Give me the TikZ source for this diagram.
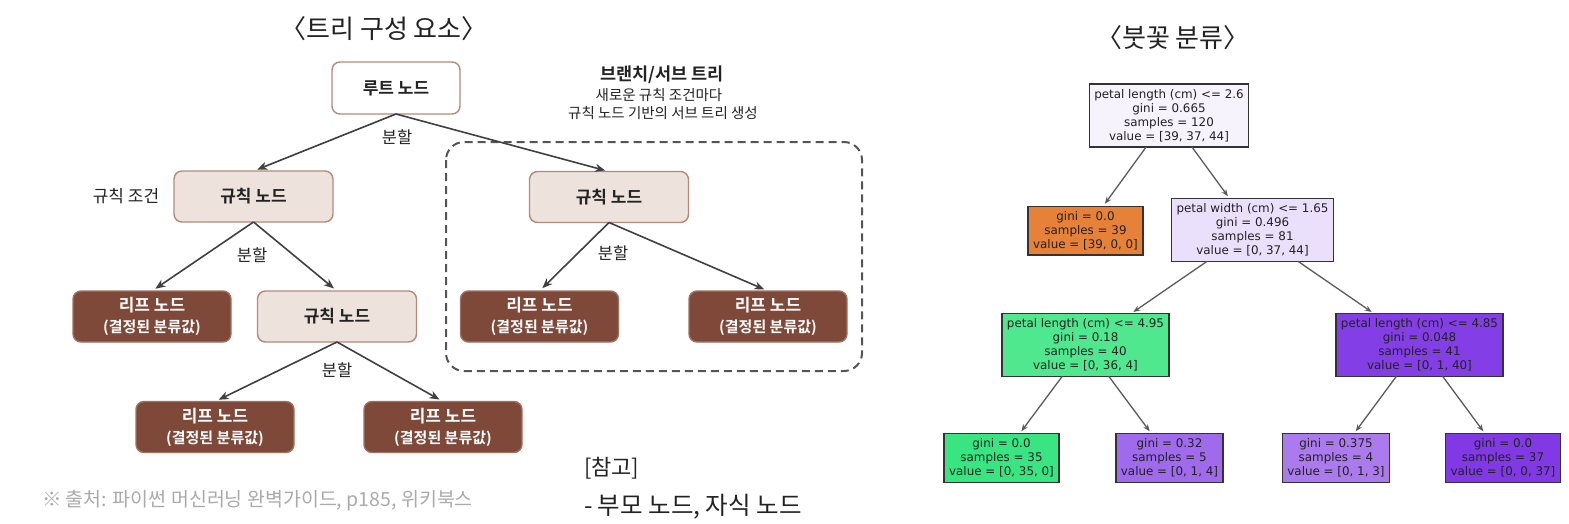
\documentclass[tikz,border=0pt]{standalone}
\usepackage{fontspec}
\setmainfont{Noto Sans CJK KR}[BoldFont={Noto Sans CJK KR Bold}]
\newfontfamily\plotfont{DejaVu Sans}
\usetikzlibrary{arrows.meta}
\definecolor{TreeInk}{RGB}{34,34,34}
\definecolor{TreeEdge}{RGB}{64,64,64}
\definecolor{RootFrame}{RGB}{181,137,122}
\definecolor{RuleFill}{RGB}{237,227,220}
\definecolor{LeafFill}{RGB}{126,73,57}
\definecolor{LeafFrame}{RGB}{163,112,96}
\definecolor{BoxDash}{RGB}{85,85,85}
\definecolor{NoteGray}{RGB}{170,170,170}
\definecolor{IrisFrame}{RGB}{51,51,51}
\definecolor{IrisArrow}{RGB}{90,90,90}
\definecolor{IrisA}{RGB}{247,243,253}
\definecolor{IrisB}{RGB}{229,129,57}
\definecolor{IrisC}{RGB}{235,224,251}
\definecolor{IrisD}{RGB}{79,232,143}
\definecolor{IrisE}{RGB}{132,62,230}
\definecolor{IrisF}{RGB}{57,229,129}
\definecolor{IrisG}{RGB}{160,106,236}
\definecolor{IrisH}{RGB}{171,123,238}
\definecolor{IrisI}{RGB}{129,57,229}

\begin{document}
\begin{tikzpicture}[
x=1pt,
y=-1pt,
every node/.style={text=TreeInk,outer sep=0pt},
titlelbl/.style={font=\fontsize{26}{30}\selectfont,inner sep=0pt},
rootnode/.style={draw=RootFrame,fill=white,rounded corners=8pt,line width=1.4pt,minimum width=128pt,minimum height=52pt,inner sep=0pt,font=\fontsize{17}{20}\selectfont\bfseries},
rulenode/.style={rootnode,fill=RuleFill,minimum width=159pt,minimum height=51pt},
leafnode/.style={draw=LeafFrame,fill=LeafFill,text=white,rounded corners=8pt,line width=1.4pt,minimum width=158pt,minimum height=51pt,inner sep=0pt,align=center,font=\fontsize{17}{21}\selectfont\bfseries},
splitlbl/.style={font=\fontsize{16.5}{19}\selectfont,inner sep=0pt},
splitflow/.style={-{Stealth[length=10pt,width=8pt,inset=3pt]},line width=1.6pt,draw=TreeEdge,shorten >=4pt},
subtreebox/.style={draw=BoxDash,line width=2pt,dash pattern=on 8pt off 5pt,rounded corners=18pt},
irisnode/.style={draw=IrisFrame,line width=1.4pt,align=center,inner xsep=5pt,inner ysep=5pt,font=\plotfont\fontsize{11.9}{14}\selectfont},
irisflow/.style={-{Stealth[length=7pt,width=5.5pt]},line width=1.3pt,draw=IrisArrow,shorten >=3pt}
]

\path[use as bounding box] (0,0) rectangle (1569,523);

\node[titlelbl] (treetitle) at (384,29) {〈트리 구성 요소〉};

\draw[subtreebox] (446,142) rectangle (862,371);

\node[font=\fontsize{17.5}{20}\selectfont\bfseries,inner sep=0pt] (branchtitle) at (662,75) {브랜치/서브 트리};
\node[font=\fontsize{14.5}{17}\selectfont,inner sep=0pt] (branchsub) at (659,95) {새로운 규칙 조건마다};
\node[font=\fontsize{14.5}{17}\selectfont,inner sep=0pt] (branchsubb) at (663,113) {규칙 노드 기반의 서브 트리 생성};

\node[rootnode] (root) at (396,88) {루트 노드};
\node[rulenode] (ruleL) at (253.5,196.5) {규칙 노드};
\node[rulenode] (ruleM) at (337,316.5) {규칙 노드};
\node[rulenode] (ruleR) at (609,197) {규칙 노드};

\node[leafnode] (leafA) at (152,316.5) {리프 노드\\{\fontsize{15}{21}\selectfont(결정된 분류값)}};
\node[leafnode] (leafB) at (215,427) {리프 노드\\{\fontsize{15}{21}\selectfont(결정된 분류값)}};
\node[leafnode] (leafC) at (443,427) {리프 노드\\{\fontsize{15}{21}\selectfont(결정된 분류값)}};
\node[leafnode] (leafD) at (539.5,316.5) {리프 노드\\{\fontsize{15}{21}\selectfont(결정된 분류값)}};
\node[leafnode] (leafE) at (768,316.5) {리프 노드\\{\fontsize{15}{21}\selectfont(결정된 분류값)}};

\node[font=\fontsize{17}{20}\selectfont,inner sep=0pt] (rulecond) at (126,196.5) {규칙 조건};
\node[splitlbl] (splitA) at (397,137) {분할};
\node[splitlbl] (splitB) at (252,255) {분할};
\node[splitlbl] (splitC) at (337,370) {분할};
\node[splitlbl] (splitD) at (613,253) {분할};

\draw[splitflow] (root.south) -- (ruleL.north);
\draw[splitflow] (root.south) -- (ruleR.north);
\draw[splitflow] (ruleL.south) -- (leafA.north);
\draw[splitflow] (ruleL.south) -- (ruleM.north);
\draw[splitflow] (ruleM.south) -- (leafB.north);
\draw[splitflow] (ruleM.south) -- (leafC.north);
\draw[splitflow] (ruleR.south) -- (leafD.north);
\draw[splitflow] (ruleR.south) -- (leafE.north);

\node[font=\fontsize{22}{26}\selectfont,inner sep=0pt,anchor=west] (notehead) at (584,468) {[참고]};
\node[font=\fontsize{24.5}{28}\selectfont,inner sep=0pt,anchor=west] (notebody) at (584,507) {- 부모 노드, 자식 노드};
\node[font=\fontsize{19.5}{22}\selectfont,text=NoteGray,inner sep=0pt,anchor=west] (source) at (42,501) {※ 출처: 파이썬 머신러닝 완벽가이드, p185, 위키북스};

\node[titlelbl] (iristitle) at (1173,38) {〈붓꽃 분류〉};

\node[irisnode,fill=IrisA] (irisA) at (1169,115.5) {petal length (cm) <= 2.6\\gini = 0.665\\samples = 120\\value = [39, 37, 44]};
\node[irisnode,fill=IrisB] (irisB) at (1085.5,230.5) {gini = 0.0\\samples = 39\\value = [39, 0, 0]};
\node[irisnode,fill=IrisC] (irisC) at (1252.5,230) {petal width (cm) <= 1.65\\gini = 0.496\\samples = 81\\value = [0, 37, 44]};
\node[irisnode,fill=IrisD] (irisD) at (1085.5,345) {petal length (cm) <= 4.95\\gini = 0.18\\samples = 40\\value = [0, 36, 4]};
\node[irisnode,fill=IrisE] (irisE) at (1419.5,345) {petal length (cm) <= 4.85\\gini = 0.048\\samples = 41\\value = [0, 1, 40]};
\node[irisnode,fill=IrisF] (irisF) at (1001.5,458) {gini = 0.0\\samples = 35\\value = [0, 35, 0]};
\node[irisnode,fill=IrisG] (irisG) at (1169.5,458) {gini = 0.32\\samples = 5\\value = [0, 1, 4]};
\node[irisnode,fill=IrisH] (irisH) at (1336,458) {gini = 0.375\\samples = 4\\value = [0, 1, 3]};
\node[irisnode,fill=IrisI] (irisI) at (1503,458) {gini = 0.0\\samples = 37\\value = [0, 0, 37]};

\draw[irisflow] (irisA) -- (irisB);
\draw[irisflow] (irisA) -- (irisC);
\draw[irisflow] (irisC) -- (irisD);
\draw[irisflow] (irisC) -- (irisE);
\draw[irisflow] (irisD) -- (irisF);
\draw[irisflow] (irisD) -- (irisG);
\draw[irisflow] (irisE) -- (irisH);
\draw[irisflow] (irisE) -- (irisI);

\end{tikzpicture}
\end{document}
